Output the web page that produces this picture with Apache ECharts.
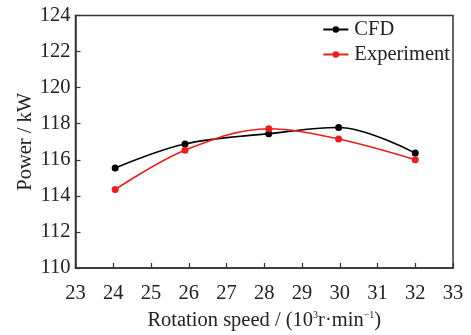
<!DOCTYPE html>
<html>
<head>
<meta charset="utf-8">
<script src="https://cdn.jsdelivr.net/npm/echarts@6/dist/echarts.min.js"></script>
<style>
  html, body { margin: 0; padding: 0; background: #fff; }
  #chart { width: 471px; height: 335px; }
</style>
</head>
<body>
<div id="chart"></div>
<script>
const speeds = [24.05, 25.9, 28.12, 29.97, 32.0];
const cfdPower = [115.55, 116.88, 117.45, 117.79, 116.37];
const expPower = [114.35, 116.53, 117.72, 117.15, 116.0];
const seriesNames = ['CFD', 'Experiment'];

const font = '"Liberation Serif", "Times New Roman", serif';
const axisColor = '#333';
const fs = 20.5;

const chart = echarts.init(document.getElementById('chart'));

function pairs(xs, ys) {
    return xs.map((x, i) => [x, ys[i]]);
}

chart.setOption({
    animation: false,
    backgroundColor: '#fff',
    grid: {
        left: 75.5,
        right: 18,
        top: 15.5,
        bottom: 67,
        outerBoundsMode: 'none',
        show: true,
        borderColor: axisColor,
        borderWidth: 1.5
    },
    legend: {
        right: 16,
        top: 14,
        orient: 'vertical',
        itemGap: 4,
        itemWidth: 25,
        itemHeight: 8,
        textStyle: { fontFamily: font, fontSize: fs, color: '#222', padding: [0, 0, 0, 1] },
        data: seriesNames
    },
    xAxis: {
        type: 'value',
        min: 23,
        max: 33,
        interval: 1,
        name: '{a|Rotation speed / (10}{s|3}{a|r·min}{s|−1}{a|)}',
        nameLocation: 'middle',
        nameGap: 42,
        nameMoveOverlap: false,
        nameTextStyle: {
            rich: {
                a: { fontFamily: font, fontSize: fs, color: '#222' },
                s: { fontFamily: font, fontSize: 10, color: '#222', verticalAlign: 'top', padding: [0, 0, 11, 0] }
            }
        },
        axisLine: { lineStyle: { color: axisColor, width: 1.5 } },
        axisTick: { inside: true, length: 5, lineStyle: { color: axisColor, width: 1.2 } },
        axisLabel: { fontFamily: font, fontSize: fs, color: '#222', margin: 15 },
        splitLine: { show: false }
    },
    yAxis: {
        type: 'value',
        min: 110,
        max: 124,
        interval: 2,
        name: 'Power / kW',
        nameLocation: 'middle',
        nameGap: 39,
        nameMoveOverlap: false,
        nameTextStyle: { fontFamily: font, fontSize: fs, color: '#222' },
        axisLine: { lineStyle: { color: axisColor, width: 1.5 } },
        axisTick: { inside: true, length: 5, lineStyle: { color: axisColor, width: 1.2 } },
        axisLabel: { fontFamily: font, fontSize: fs, color: '#222', margin: 5 },
        splitLine: { show: false }
    },
    series: [
        {
            name: seriesNames[0],
            type: 'line',
            smooth: 0.35,
            data: pairs(speeds, cfdPower),
            symbol: 'circle',
            symbolSize: 7,
            lineStyle: { color: '#000', width: 1.6 },
            itemStyle: { color: '#000' }
        },
        {
            name: seriesNames[1],
            type: 'line',
            smooth: 0.35,
            data: pairs(speeds, expPower),
            symbol: 'circle',
            symbolSize: 7,
            lineStyle: { color: '#ee1c1c', width: 1.6 },
            itemStyle: { color: '#ee1c1c' }
        }
    ]
});
</script>
</body>
</html>
